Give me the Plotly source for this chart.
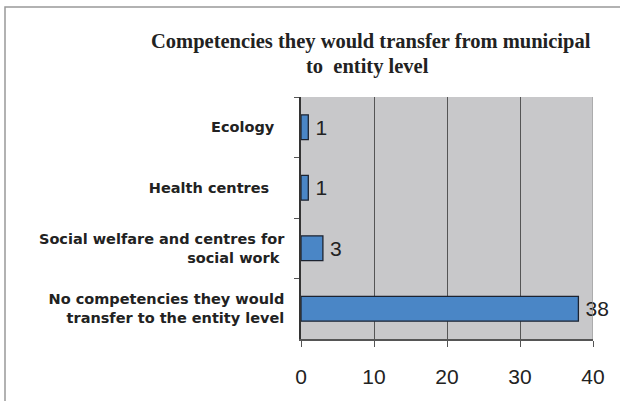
import plotly.graph_objects as go

# Survey answers: competencies respondents would move from municipal to entity level
categories = [
    "Ecology\u00a0\u00a0",
    "Health centres\u00a0\u00a0\u00a0",
    "Social welfare and centres for<br>social work\u00a0",
    "No competencies they would<br>transfer to the entity level",
]
counts = [1, 1, 3, 38]
x_ticks = [0, 10, 20, 30, 40]

title_line1 = "Competencies they would transfer from municipal"
title_line2 = "to\u00a0 entity level"

W, H = 620, 401
L, R, T, B = 301, 27, 97, 62
PW, PH = W - L - R, H - T - B


def px_x(x):
    return (x - L) / PW


def px_y(y):
    return 1 - (y - T) / PH


fig = go.Figure(
    go.Bar(
        x=counts,
        y=categories,
        orientation="h",
        width=0.41,
        marker=dict(color="#4a86c6", line=dict(color="#1c2330", width=1.3)),
        text=["\u2009" + str(v) for v in counts],
        textposition="outside",
        textfont=dict(family="Liberation Sans, Arial", size=21, color="#222"),
        cliponaxis=False,
        hoverinfo="skip",
    )
)

fig.update_layout(
    width=W,
    height=H,
    margin=dict(l=L, r=R, t=T, b=B, pad=0),
    paper_bgcolor="white",
    plot_bgcolor="#c8c8ca",
    showlegend=False,
)

fig.update_xaxes(
    range=[0, 40],
    tickvals=x_ticks,
    ticktext=[str(v) for v in x_ticks],
    showgrid=True,
    gridcolor="#555555",
    gridwidth=1.2,
    zeroline=False,
    showline=True,
    linecolor="#555555",
    linewidth=1.5,
    ticks="outside",
    ticklen=6,
    tickcolor="#555555",
    tickfont=dict(family="Liberation Sans, Arial", size=21, color="#222"),
    ticklabelstandoff=12,
)

fig.update_yaxes(
    categoryorder="array",
    categoryarray=categories,
    autorange="reversed",
    tickson="boundaries",
    ticks="outside",
    ticklen=5,
    tickcolor="#555555",
    showgrid=False,
    showline=True,
    linecolor="#333333",
    linewidth=1.5,
    tickfont=dict(family="DejaVu Sans", size=14.5, color="#222", weight="bold"),
    ticklabelstandoff=12,
)

# Light right edge of the plotting area
fig.add_shape(type="line", xref="x", yref="paper", x0=40, x1=40, y0=0, y1=1,
              line=dict(color="#9a9a9a", width=1.2))

# Frame around the chart; only its top and left edges fall inside the page
fig.add_shape(type="rect", xref="paper", yref="paper", layer="above",
              x0=px_x(5), x1=px_x(W + 10), y0=px_y(H + 10), y1=px_y(7),
              line=dict(color="#999999", width=1.5), fillcolor="rgba(0,0,0,0)")

title_font = dict(family="Liberation Serif, Times New Roman", size=20.5, color="#222")
fig.add_annotation(text="<b>" + title_line1 + "</b>", xref="paper", yref="paper",
                   x=px_x(371), y=px_y(42),
                   xanchor="center", yanchor="middle", showarrow=False, font=title_font)
fig.add_annotation(text="<b>" + title_line2 + "</b>", xref="paper", yref="paper",
                   x=px_x(367), y=px_y(66),
                   xanchor="center", yanchor="middle", showarrow=False, font=title_font)

fig.write_html("out.html")
